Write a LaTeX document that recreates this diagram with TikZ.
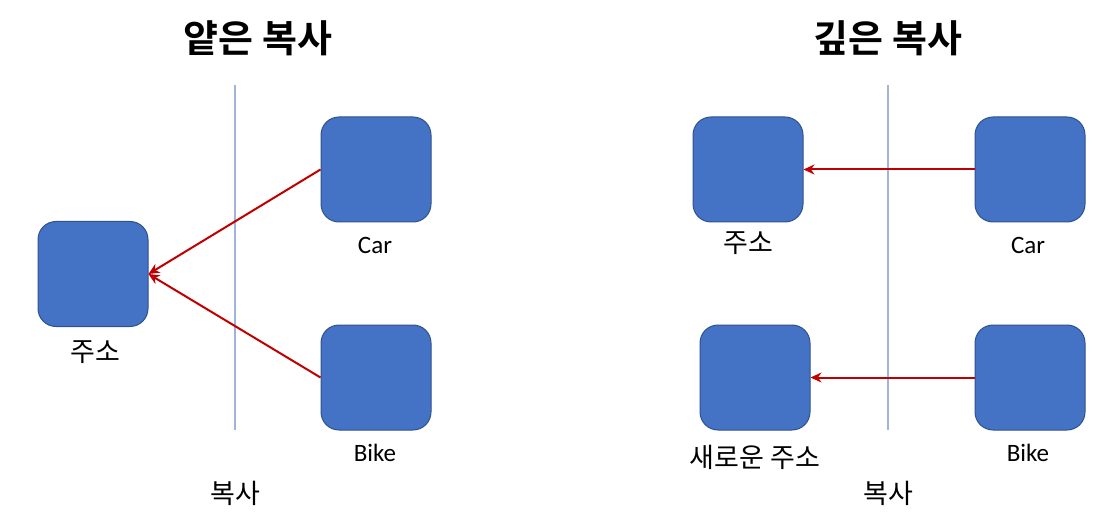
\documentclass[tikz,border=0pt]{standalone}
\usepackage{fontspec}
\setmainfont{Carlito}
\newfontfamily\kr{Noto Sans CJK KR}
\newfontfamily\krbold{Noto Sans CJK KR Bold}
\usepackage{xcolor}
\usetikzlibrary{arrows.meta,positioning}
\definecolor{boxBlue}{RGB}{68,114,196}
\definecolor{boxBlueDark}{RGB}{47,82,143}
\definecolor{refRed}{RGB}{192,0,0}
\definecolor{sepBlue}{RGB}{160,180,215}

\tikzset{
  membox/.style={draw=boxBlueDark, fill=boxBlue, line width=0.5pt, rounded corners=9pt,
    minimum width=55pt, minimum height=52.5pt, inner sep=0pt},
  reflink/.style={refRed, line width=1pt, -{Stealth[length=5.5pt,width=5pt]}},
  sepline/.style={sepBlue, line width=0.6pt},
  lbl/.style={font=\fontsize{12.5}{14}\selectfont},
  krlbl/.style={font=\kr\fontsize{13.5}{16}\selectfont},
  title/.style={font=\krbold\fontsize{19}{22}\selectfont}
}

\begin{document}
\begin{tikzpicture}[x=0.5pt,y=-0.5pt]
\useasboundingbox (0,0) rectangle (1118,529);
% shallow copy
\node[title] (titleS) at (258,38) {얕은 복사};
\node[membox] (addrS) at (93,274) {};
\node[membox] (carS) at (376,169.5) {};
\node[membox] (bikeS) at (376,377.5) {};
\node[krlbl] (addrSlbl) at (95,352) {주소};
\node[lbl] (carSlbl) at (375,245) {Car};
\node[lbl] (bikeSlbl) at (375,453) {Bike};
\coordinate (sepStop) at (235,85);
\coordinate (sepSbot) at (235,430);
\draw[sepline] (sepStop) -- (sepSbot);
\node[krlbl] (copyS) at (235,493) {복사};
\draw[reflink] (carS.west) -- (addrS.east);
\draw[reflink] (bikeS.west) -- (addrS.east);

% deep copy
\node[title] (titleD) at (888,38) {깊은 복사};
\node[membox] (addrD) at (748,169.5) {};
\node[membox] (newAddrD) at (755,377.5) {};
\node[membox] (carD) at (1030,169.5) {};
\node[membox] (bikeD) at (1030,377.5) {};
\node[krlbl] (addrDlbl) at (748,243) {주소};
\node[krlbl] (newAddrDlbl) at (755,457) {새로운 주소};
\node[lbl] (carDlbl) at (1028,245) {Car};
\node[lbl] (bikeDlbl) at (1028,453) {Bike};
\coordinate (sepDtop) at (888,85);
\coordinate (sepDbot) at (888,430);
\draw[sepline] (sepDtop) -- (sepDbot);
\node[krlbl] (copyD) at (888,493) {복사};
\draw[reflink] (carD.west) -- (addrD.east);
\draw[reflink] (bikeD.west) -- (newAddrD.east);
\end{tikzpicture}
\end{document}
